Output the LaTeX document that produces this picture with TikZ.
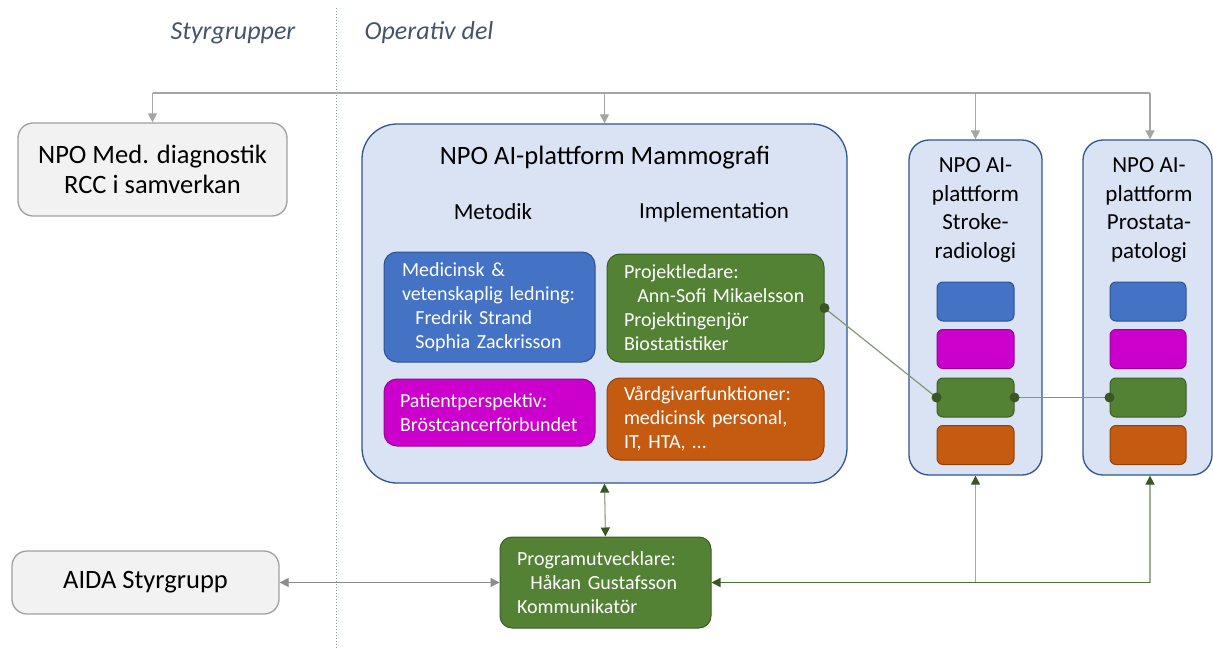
\documentclass[tikz,border=0pt]{standalone}
\usepackage{fontspec}
\setmainfont{Carlito}
\usetikzlibrary{arrows.meta}

\definecolor{headgray}{HTML}{44546A}
\definecolor{sepline}{HTML}{8497B0}
\definecolor{boxgray}{HTML}{F2F2F2}
\definecolor{boxgrayline}{HTML}{A0A0A0}
\definecolor{conngray}{HTML}{A5A5A5}
\definecolor{darkconngray}{HTML}{8C8C8C}
\definecolor{paleblue}{HTML}{DAE3F3}
\definecolor{frameblue}{HTML}{2F5597}
\definecolor{roleblue}{HTML}{4472C4}
\definecolor{roleblueline}{HTML}{2F528F}
\definecolor{rolegreen}{HTML}{548235}
\definecolor{rolegreenline}{HTML}{3B5E24}
\definecolor{rolemag}{HTML}{CC00CC}
\definecolor{rolemagline}{HTML}{9A009A}
\definecolor{roleorange}{HTML}{C55A11}
\definecolor{roleorangeline}{HTML}{8F4210}
\definecolor{dotgreen}{HTML}{385723}
\definecolor{linkgreen}{HTML}{7E9A70}
\definecolor{palegreenline}{HTML}{9DB190}
\definecolor{arrowgreen}{HTML}{4E6E3A}

\tikzset{
  x=1pt, y=-1pt,
  heading/.style={font=\fontsize{26}{30}\selectfont\itshape, text=headgray, inner sep=0pt},
  graybox/.style={draw=boxgrayline, fill=boxgray, line width=1.3pt, rounded corners=15pt,
    align=center, inner sep=0pt, font=\fontsize{26.5}{30}\selectfont},
  frame/.style={draw=frameblue, fill=paleblue, line width=1.3pt, inner sep=0pt},
  framelabel/.style={inner sep=0pt, align=center},
  rolebox/.style={rounded corners=13pt, line width=1pt, text=white, align=left,
    inner ysep=0pt, inner xsep=17pt, font=\fontsize{20}{24}\selectfont},
  chip/.style={rounded corners=6pt, line width=1pt, minimum width=77pt, minimum height=39pt, inner sep=0pt},
  bluefill/.style={fill=roleblue, draw=roleblueline},
  greenfill/.style={fill=rolegreen, draw=rolegreenline},
  magfill/.style={fill=rolemag, draw=rolemagline},
  orangefill/.style={fill=roleorange, draw=roleorangeline},
  gtip/.tip={Triangle[length=9pt,width=9pt]},
  dgtip/.tip={Triangle[length=9pt,width=9pt,color=dotgreen]},
  grayconn/.style={draw=conngray, line width=1.3pt},
  grayhead/.style={-gtip, grayconn},
  greenconn/.style={draw=palegreenline, line width=1.3pt},
  greenhead/.style={-dgtip, greenconn},
  linkconn/.style={draw=linkgreen, line width=1.2pt},
  linkdot/.style={fill=dotgreen},
}

\begin{document}
\begin{tikzpicture}
\useasboundingbox (0,0) rectangle (1213,650);

% column headings and divider
\node[heading] (hstyr) at (233,33) {Styrgrupper};
\node[heading] (hop) at (429,33) {Operativ del};
\coordinate (septop) at (336,8);
\coordinate (sepbot) at (336,650);
\draw[sepline, line width=0.7pt, dash pattern=on 1.2pt off 1.8pt] (septop) -- (sepbot);

% steering groups
\node[graybox, minimum width=269pt, minimum height=93pt] (npomed) at (152.5,169.5)
  {NPO Med. diagnostik\\RCC i samverkan};
\node[graybox, minimum width=267pt, minimum height=63pt] (aida) at (145.5,582.5)
  {AIDA Styrgrupp};

% Mammografi platform
\node[frame, rounded corners=35pt, minimum width=485pt, minimum height=359pt] (mammo) at (604.5,303.5) {};
\node[framelabel, font=\fontsize{26.5}{30}\selectfont] (mtitle) at (605,158) {NPO AI-plattform Mammografi};
\node[framelabel, font=\fontsize{23}{28}\selectfont] (metodik) at (493,212) {Metodik};
\node[framelabel, font=\fontsize{23}{28}\selectfont] (impl) at (714,212) {Implementation};

\node[rolebox, bluefill, inner xsep=18pt, text width=175pt, minimum height=110pt] (med) at (489.5,307)
  {Medicinsk \&\\vetenskaplig ledning:\\\ \ Fredrik Strand\\\ \ Sophia Zackrisson};
\node[rolebox, greenfill, text width=183pt, minimum height=108pt] (proj) at (715.5,308)
  {Projektledare:\\\ \ Ann-Sofi Mikaelsson\\Projektingenjör\\Biostatistiker};
\node[rolebox, magfill, inner xsep=16pt, text width=179pt, minimum height=67pt] (pat) at (489.5,412.5)
  {Patientperspektiv:\\Bröstcancerförbundet};
\node[rolebox, orangefill, text width=183pt, minimum height=82pt] (vard) at (715.5,419)
  {Vårdgivarfunktioner:\\medicinsk personal,\\IT, HTA, …};

% Stroke platform
\node[frame, rounded corners=20pt, minimum width=133pt, minimum height=335pt] (stroke) at (975.5,307.5) {};
\node[framelabel, font=\fontsize{23}{28.5}\selectfont] (stext) at (975.5,210) {NPO AI-\\plattform\\Stroke-\\radiologi};
\node[chip, bluefill] (sblue) at (975.5,301.5) {};
\node[chip, magfill] (smag) at (975.5,349) {};
\node[chip, greenfill] (sgreen) at (975.5,397.5) {};
\node[chip, orangefill] (sorange) at (975.5,445) {};

% Prostata platform
\node[frame, rounded corners=20pt, minimum width=129pt, minimum height=335pt] (prost) at (1147.5,307.5) {};
\node[framelabel, font=\fontsize{23}{28.5}\selectfont] (ptext) at (1149,210) {NPO AI-\\plattform\\Prostata-\\patologi};
\node[chip, bluefill, minimum width=76pt] (pblue) at (1148,301.5) {};
\node[chip, magfill, minimum width=76pt] (pmag) at (1148,349) {};
\node[chip, greenfill, minimum width=76pt] (pgreen) at (1148,397.5) {};
\node[chip, orangefill, minimum width=76pt] (porange) at (1148,445) {};

% programme development
\node[rolebox, greenfill, rounded corners=12pt, text width=177pt, minimum height=91pt] (prog) at (605.5,582.5)
  {Programutvecklare:\\\ \ Håkan Gustafsson\\Kommunikatör};

% top distribution bus
\coordinate (busL) at (152.5,93);
\coordinate (busR) at (1150,93);
\draw[grayconn] (busL) -- (busR);
\draw[grayhead] (busL) -- (npomed.north);
\draw[grayhead] (mammo.north |- busL) -- (mammo.north);
\draw[grayhead] (stroke.north |- busL) -- (stroke.north);
\draw[grayhead] (busR) -- (busR |- prost.north);

% project-lead links between platforms
\draw[linkconn] (proj.east) -- (sgreen.west);
\draw[linkconn] (sgreen.east) -- (pgreen.west);
\fill[linkdot] (proj.east) circle (5pt);
\fill[linkdot] (sgreen.west) circle (5pt);
\fill[linkdot] (sgreen.east) circle (5pt);
\fill[linkdot] (pgreen.west) circle (5pt);

% programme development links
\draw[greenconn, dgtip-dgtip] (mammo.south) -- (prog.north);
\draw[draw=darkconngray, line width=1.3pt, gtip-gtip] (aida.east) -- (prog.west);
\coordinate (jstroke) at (stroke.south |- prog.east);
\coordinate (jprost) at (busR |- prog.east);
\draw[greenhead] (jstroke) -- (stroke.south);
\draw[greenhead] (jprost) -- (busR |- prost.south);
\draw[draw=arrowgreen, line width=1.4pt, -dgtip] (jprost) -- (prog.east);
\end{tikzpicture}
\end{document}
